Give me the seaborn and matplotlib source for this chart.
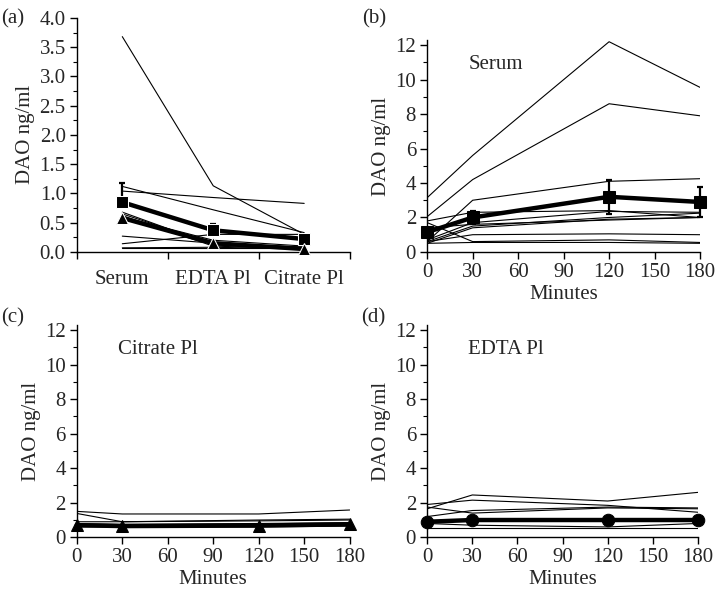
import numpy as np
import pandas as pd
import matplotlib
matplotlib.use("Agg")
import matplotlib.pyplot as plt
from matplotlib.ticker import MultipleLocator
import seaborn as sns

# panel (a): sample type comparison
sample_types = ["Serum", "EDTA Pl", "Citrate Pl"]
a_subjects = [
    [3.68, 1.13, 0.30],
    [1.12, 0.72, 0.33],
    [1.04, 0.93, 0.83],
    [0.65, 0.14, 0.08],
    [0.62, 0.10, 0.05],
    [0.60, 0.20, 0.10],
    [0.68, 0.12, 0.06],
    [0.27, 0.15, 0.08],
    [0.14, 0.30, 0.30],
    [0.06, 0.06, 0.06],
    [0.07, 0.08, 0.05],
]
a_mean = [0.85, 0.37, 0.22]
a_err = [0.32, 0.11, 0.0]
a_median = [0.58, 0.15, 0.05]

# time course panels
minutes = [0, 30, 120, 180]

serum_subjects = [
    [3.15, 5.6, 12.2, 9.55],
    [2.05, 4.2, 8.6, 7.9],
    [0.6, 3.0, 4.1, 4.25],
    [1.8, 2.3, 2.4, 2.0],
    [0.7, 1.7, 2.35, 2.3],
    [0.6, 1.5, 2.0, 2.25],
    [0.5, 1.4, 1.9, 2.0],
    [1.4, 1.6, 1.85, 2.0],
    [0.6, 1.0, 1.05, 1.0],
    [1.7, 0.6, 0.7, 0.55],
    [0.5, 0.55, 0.55, 0.5],
]
serum_mean = [1.15, 2.0, 3.2, 2.9]
serum_err = [0.2, 0.38, 1.0, 0.85]

citrate_subjects = [
    [1.5, 1.35, 1.35, 1.58],
    [1.38, 0.9, 1.0, 1.05],
    [0.9, 0.9, 0.95, 1.0],
    [0.8, 0.75, 0.8, 0.85],
    [0.65, 0.6, 0.65, 0.7],
    [0.6, 0.6, 0.6, 0.65],
]
citrate_mean = [0.7, 0.65, 0.68, 0.75]

edta_subjects = [
    [1.65, 2.45, 2.1, 2.6],
    [1.9, 2.15, 1.85, 1.45],
    [1.75, 1.4, 1.7, 1.65],
    [1.2, 1.55, 1.75, 1.7],
    [0.8, 0.7, 0.6, 0.8],
    [0.55, 0.55, 0.55, 0.55],
]
edta_mean = [0.9, 1.0, 1.0, 1.0]

FS = 15


def long_df(subjects, xs):
    rows = []
    for i, vals in enumerate(subjects):
        for x, v in zip(xs, vals):
            rows.append({"subject": i, "x": x, "y": v})
    return pd.DataFrame(rows)


def style_axis(ax, ymax, ymajor, yminor):
    sns.despine(ax=ax)
    ax.set_ylim(0, ymax)
    ax.yaxis.set_major_locator(MultipleLocator(ymajor))
    ax.yaxis.set_minor_locator(MultipleLocator(yminor))
    ax.tick_params(axis="both", which="major", direction="out", length=5,
                   width=1, labelsize=FS, color="black", pad=3)
    ax.tick_params(axis="y", which="minor", direction="out", length=3,
                   width=0.8, color="black")
    for s in ["left", "bottom"]:
        ax.spines[s].set_color("black")
        ax.spines[s].set_linewidth(1)
    ax.set_ylabel("DAO ng/ml", fontsize=FS, labelpad=3)


def time_panel(ax, subjects, mean, marker, err=None, label=""):
    df = long_df(subjects, minutes)
    sns.lineplot(data=df, x="x", y="y", units="subject", estimator=None,
                 color="black", lw=0.8, ax=ax, legend=False)
    mdf = pd.DataFrame({"x": minutes, "y": mean})
    sns.lineplot(data=mdf, x="x", y="y", color="black", lw=3.2,
                 marker=marker, markersize=9, ax=ax, legend=False,
                 markeredgecolor="black", clip_on=False, zorder=5)
    if err is not None:
        ax.errorbar(minutes, mean, yerr=err, fmt="none", ecolor="black",
                    elinewidth=1.6, capsize=2.5, capthick=1.6, zorder=4,
                    clip_on=False)
    style_axis(ax, 12.3, 2, 1)
    ax.set_xlim(0, 180)
    ax.set_xticks([0, 30, 60, 90, 120, 150, 180])
    ax.set_xlabel("Minutes", fontsize=FS, labelpad=2)
    ax.text(0.15, 0.93, label, transform=ax.transAxes, fontsize=FS,
            va="top", ha="left")


sns.set_style("ticks")
plt.rcParams["font.family"] = ["Liberation Serif", "DejaVu Serif"]

fig = plt.figure(figsize=(7.18, 5.97), dpi=100)
ax_a = fig.add_axes([0.107, 0.578, 0.380, 0.392])
ax_b = fig.add_axes([0.595, 0.578, 0.380, 0.355])
ax_c = fig.add_axes([0.107, 0.100, 0.380, 0.356])
ax_d = fig.add_axes([0.595, 0.100, 0.377, 0.356])

# panel (a)
pos = list(range(len(sample_types)))
df_a = long_df(a_subjects, pos)
sns.lineplot(data=df_a, x="x", y="y", units="subject", estimator=None,
             color="black", lw=0.8, ax=ax_a, legend=False)
sns.lineplot(x=pos, y=a_mean, color="black", lw=3.2, marker="s",
             markersize=9, ax=ax_a, zorder=5, clip_on=False)
ax_a.errorbar(pos, a_mean, yerr=[[0] * 3, a_err], fmt="none", ecolor="black",
              elinewidth=1.6, capsize=2.5, capthick=1.6, zorder=4)
sns.lineplot(x=pos, y=a_median, color="black", lw=3.2, marker="^",
             markersize=9, ax=ax_a, zorder=5, clip_on=False)
style_axis(ax_a, 4.0, 0.5, 0.25)
ax_a.yaxis.set_major_formatter(matplotlib.ticker.FormatStrFormatter("%.1f"))
ax_a.set_xlim(-0.5, 2.5)
ax_a.set_xticks(pos)
ax_a.set_xticklabels(sample_types)
ax_a.set_xticks([-0.5, 0.5, 1.5, 2.5], minor=True)
ax_a.tick_params(axis="x", which="major", length=0, pad=13)
ax_a.tick_params(axis="x", which="minor", direction="out", length=5, width=1,
                 color="black")
ax_a.set_xlabel("")

time_panel(ax_b, serum_subjects, serum_mean, "s", err=serum_err, label="Serum")
time_panel(ax_c, citrate_subjects, citrate_mean, "^", label="Citrate Pl")
time_panel(ax_d, edta_subjects, edta_mean, "o", label="EDTA Pl")

fig.text(0.002, 0.968, "(a)", fontsize=FS, va="center")
fig.text(0.505, 0.968, "(b)", fontsize=FS, va="center")
fig.text(0.002, 0.468, "(c)", fontsize=FS, va="center")
fig.text(0.503, 0.468, "(d)", fontsize=FS, va="center")

fig.savefig("out.png", dpi=100)
